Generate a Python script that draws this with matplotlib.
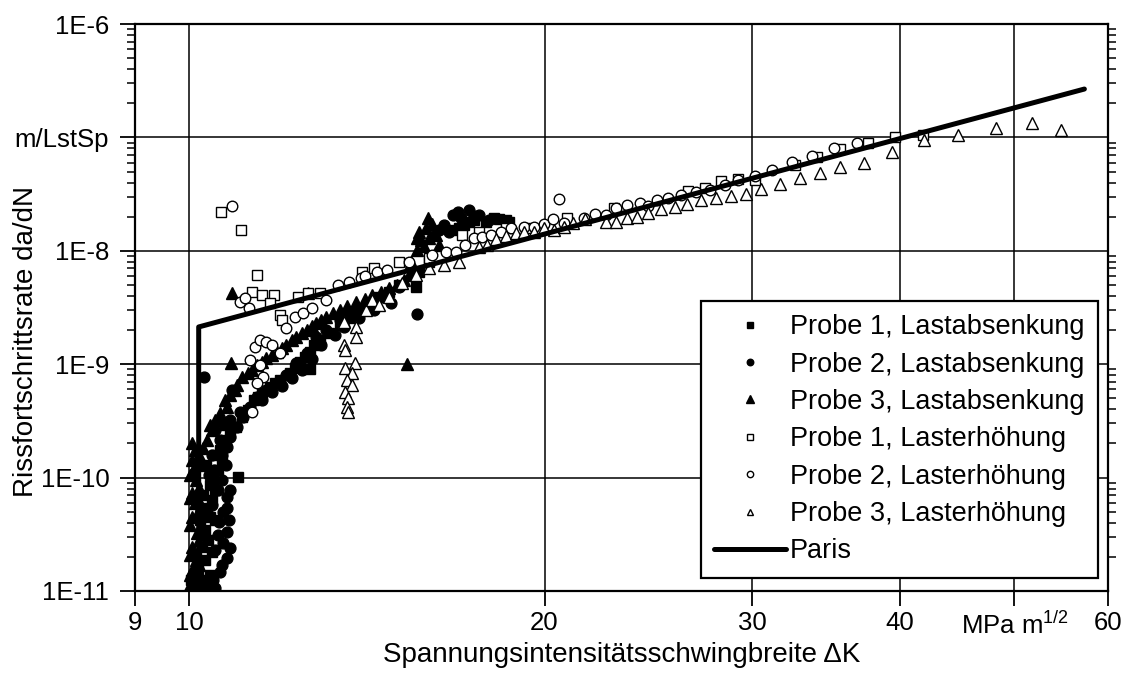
import matplotlib
matplotlib.use("Agg")
import matplotlib.pyplot as plt
from matplotlib.ticker import FixedLocator, NullLocator, LogLocator, NullFormatter

plt.rcParams["font.family"] = ["Liberation Sans", "DejaVu Sans"]
plt.rcParams["mathtext.fontset"] = "custom"
plt.rcParams["mathtext.rm"] = "Liberation Sans"

# Probe 1, Lastabsenkung
dk_p1_ab = [10.11, 10.21, 10.17, 10.31, 10.25, 10.37, 10.31, 10.41, 10.35, 10.45,
            10.51, 10.47, 10.58, 10.66, 10.62, 10.74, 10.83, 10.95, 11.08, 11.22,
            11.35, 11.52, 11.70, 11.93, 12.17, 12.41, 12.65, 12.90, 13.41, 13.94,
            14.49, 15.07, 15.97, 11.00, 12.65, 15.58, 16.70, 17.10, 17.43, 17.85,
            18.30, 18.55, 10.04, 10.27, 10.41, 10.13, 10.45, 10.21, 10.51, 10.27,
            10.41, 10.33, 10.51, 10.72, 11.43, 11.82, 12.29, 12.53, 12.77, 13.15,
            13.67, 14.21, 14.78, 15.67, 17.26, 18.12, 18.66, 16.93]
rate_p1_ab = [1.06e-11, 1.25e-11, 1.53e-11, 1.88e-11, 2.44e-11, 2.82e-11, 3.45e-11, 4.5e-11, 5.4e-11, 6.35e-11,
              7.78e-11, 9.5e-11, 1.17e-10, 1.43e-10, 1.75e-10, 2.15e-10, 2.47e-10, 2.79e-10, 3.42e-10, 3.94e-10,
              4.83e-10, 5.57e-10, 6.3e-10, 7.25e-10, 8.36e-10, 1.05e-9, 1.28e-9, 1.63e-9, 2.2e-9, 3.0e-9,
              3.91e-9, 5.0e-9, 7.97e-9, 1.01e-10, 9.1e-10, 4.8e-9, 1.53e-8, 1.69e-8, 1.87e-8, 1.80e-8,
              1.91e-8, 1.87e-8, 1.25e-11, 1.02e-11, 1.38e-11, 2.08e-11, 2.21e-11, 4.23e-11, 4.23e-11, 7.03e-11,
              8.6e-11, 1.29e-10, 1.58e-10, 2.91e-10, 5.14e-10, 6.82e-10, 9.25e-10, 1.16e-9, 1.48e-9, 1.88e-9,
              2.55e-9, 3.33e-9, 4.33e-9, 6.52e-9, 1.80e-8, 1.95e-8, 1.80e-8, 1.59e-8]

# Probe 2, Lastabsenkung
dk_p2_ab = [10.37, 10.47, 10.62, 10.76, 10.68, 10.76, 10.60, 10.68, 10.76, 10.76,
            10.58, 10.49, 10.66, 10.76, 10.83, 10.97, 10.88, 11.11, 11.26, 11.41,
            11.63, 11.86, 12.09, 12.33, 12.58, 12.82, 13.07, 13.41, 13.75, 14.13,
            14.60, 15.07, 15.50, 10.29, 15.60, 16.29, 16.45, 16.74, 17.00, 17.26,
            17.60, 17.95, 10.51, 10.66, 10.51, 10.83, 10.58, 10.81, 10.45, 10.83,
            10.66, 10.39, 10.74, 10.45, 10.62, 10.51, 10.83, 11.04, 11.52, 11.75,
            11.98, 12.22, 12.46, 12.70, 12.94, 13.28, 13.54, 13.94, 14.35, 14.84,
            16.90, 17.43, 16.61]
rate_p2_ab = [1.13e-11, 1.25e-11, 1.47e-11, 1.95e-11, 2.65e-11, 3.31e-11, 4.06e-11, 4.97e-11, 5.4e-11, 6.74e-11,
              7.78e-11, 1.17e-10, 1.58e-10, 1.86e-10, 2.28e-10, 2.79e-10, 5.92e-10, 3.42e-10, 4.2e-10, 5.14e-10,
              5.92e-10, 6.82e-10, 8.03e-10, 1.03e-9, 1.26e-9, 1.74e-9, 2.0e-9, 2.45e-9, 2.83e-9, 3.19e-9,
              3.91e-9, 4.8e-9, 6.12e-9, 7.71e-10, 2.78e-9, 1.53e-8, 1.69e-8, 2.07e-8, 1.95e-8, 2.29e-8,
              2.07e-8, 1.87e-8, 1.06e-11, 1.7e-11, 2.3e-11, 2.39e-11, 3.12e-11, 4.23e-11, 5.73e-11, 7.78e-11,
              9.5e-11, 1.05e-10, 1.29e-10, 1.58e-10, 2.15e-10, 2.63e-10, 3.22e-10, 3.79e-10, 4.83e-10, 5.69e-10,
              6.43e-10, 7.55e-10, 8.89e-10, 1.11e-9, 1.48e-9, 1.81e-9, 2.13e-9, 2.55e-9, 3.0e-9, 3.47e-9,
              2.2e-8, 2.03e-8, 1.47e-8]

# Probe 3, Lastabsenkung
dk_p3_ab = [10.06, 10.11, 10.06, 10.13, 10.06, 10.15, 10.06, 10.11, 10.06, 10.13,
            10.08, 10.06, 10.11, 10.06, 10.27, 10.21, 10.23, 10.45, 10.62, 10.76,
            10.66, 10.93, 11.08, 11.22, 11.41, 11.63, 11.86, 12.09, 12.33, 12.58,
            12.82, 13.07, 13.41, 13.84, 14.29, 14.78, 15.22, 15.51, 15.61, 15.73,
            15.86, 15.92, 16.06, 16.19, 16.29, 15.67, 15.97, 10.87, 12.60, 10.85,
            15.30, 10.02, 10.02, 10.19, 10.02, 10.19, 10.02, 10.19, 10.02, 10.19,
            10.02, 10.19, 10.19, 10.35, 10.41, 10.51, 10.72, 10.83, 10.97, 11.30,
            11.52, 11.75, 11.98, 12.22, 12.46, 12.70, 12.94, 13.25, 13.62, 14.08,
            14.55, 15.01, 15.36, 15.42, 15.80, 16.13, 15.61]
rate_p3_ab = [1.06e-11, 1.25e-11, 1.53e-11, 1.88e-11, 2.44e-11, 3.25e-11, 4.5e-11, 5.97e-11, 7.31e-11, 9.5e-11,
              1.17e-10, 1.43e-10, 1.75e-10, 2.02e-10, 1.82e-10, 3.45e-11, 5.74e-11, 2.63e-10, 3.71e-10, 4.2e-10,
              3.22e-10, 5.92e-10, 7.71e-10, 8.36e-10, 9.84e-10, 1.13e-9, 1.28e-9, 1.48e-9, 1.74e-9, 2.0e-9,
              2.31e-9, 2.61e-9, 3.0e-9, 3.53e-9, 4.07e-9, 4.7e-9, 5.53e-9, 6.78e-9, 1.02e-8, 1.25e-8,
              1.59e-8, 1.95e-8, 1.72e-8, 1.38e-8, 1.13e-8, 1.47e-8, 1.29e-8, 4.25e-9, 4.25e-9, 1.03e-9,
              1.0e-9, 1.13e-11, 1.38e-11, 1.7e-11, 2.08e-11, 2.82e-11, 3.82e-11, 5.18e-11, 6.61e-11, 8.1e-11,
              1.05e-10, 1.29e-10, 1.58e-10, 2.15e-10, 2.91e-10, 3.22e-10, 4.83e-10, 5.35e-10, 6.56e-10, 8.89e-10,
              1.05e-9, 1.2e-9, 1.39e-9, 1.63e-9, 1.88e-9, 2.17e-9, 2.45e-9, 2.83e-9, 3.26e-9, 3.76e-9,
              4.33e-9, 5.0e-9, 6.12e-9, 7.97e-9, 1.1e-8, 1.47e-8, 1.29e-8]

# Probe 1, Lasterhöhung
dk_p1_er = [10.64, 11.07, 11.41, 11.30, 11.53, 11.80, 11.70, 11.93, 11.98, 12.36,
            12.60, 12.90, 14.00, 14.35, 15.07, 15.97, 17.03, 17.60, 18.55, 19.30,
            20.88, 22.88, 26.47, 27.36, 28.23, 29.17, 30.15, 32.60, 34.00, 35.60,
            37.60, 39.60, 41.80]
rate_p1_er = [2.2e-8, 1.53e-8, 6.1e-9, 4.33e-9, 4.08e-9, 4.08e-9, 3.46e-9, 2.72e-9, 2.45e-9, 3.91e-9,
              4.25e-9, 4.25e-9, 6.5e-9, 7.05e-9, 7.97e-9, 8.6e-9, 1.38e-8, 1.46e-8, 1.59e-8, 1.59e-8,
              1.95e-8, 2.38e-8, 3.37e-8, 3.58e-8, 4.12e-8, 4.3e-8, 4.2e-8, 5.7e-8, 6.7e-8, 7.9e-8,
              8.9e-8, 1.0e-7, 1.05e-7]

# Probe 2, Lasterhöhung
dk_p2_er = [10.87, 20.56, 11.04, 11.15, 11.24, 11.26, 11.37, 11.48, 11.63, 11.75,
            11.48, 11.55, 11.42, 11.30, 11.93, 12.09, 12.29, 12.48, 12.72, 13.07,
            13.36, 13.67, 13.97, 14.08, 14.43, 14.72, 15.36, 16.06, 16.51, 16.83,
            17.13, 17.43, 17.70, 18.02, 18.37, 18.73, 19.21, 19.59, 19.97, 20.32,
            20.76, 21.58, 22.05, 22.53, 22.97, 23.51, 24.07, 24.49, 24.92, 25.46,
            26.10, 26.89, 27.63, 28.44, 29.17, 30.15, 31.15, 32.40, 33.70, 35.20,
            36.80]
rate_p2_er = [2.48e-8, 2.86e-8, 3.54e-9, 3.83e-9, 3.13e-9, 1.09e-9, 1.42e-9, 1.63e-9, 1.57e-9, 1.48e-9,
              9.8e-10, 7.7e-10, 6.8e-10, 3.79e-10, 1.25e-9, 2.09e-9, 2.61e-9, 2.83e-9, 3.13e-9, 3.68e-9,
              5.0e-9, 5.3e-9, 5.75e-9, 6.0e-9, 6.5e-9, 6.8e-9, 7.97e-9, 9.2e-9, 9.8e-9, 9.8e-9,
              1.12e-8, 1.30e-8, 1.32e-8, 1.38e-8, 1.46e-8, 1.59e-8, 1.62e-8, 1.62e-8, 1.72e-8, 1.91e-8,
              1.76e-8, 1.95e-8, 2.11e-8, 2.06e-8, 2.38e-8, 2.53e-8, 2.64e-8, 2.48e-8, 2.81e-8, 2.92e-8,
              3.1e-8, 3.3e-8, 3.44e-8, 3.8e-8, 4.2e-8, 4.57e-8, 5.16e-8, 6.07e-8, 6.85e-8, 8.07e-8,
              8.93e-8]

# Probe 3, Lasterhöhung
dk_p3_er = [13.53, 13.86, 13.84, 13.53, 13.56, 13.81, 13.56, 13.73, 13.61, 13.73,
            13.56, 13.64, 13.61, 13.64, 14.13, 14.29, 14.49, 14.78, 15.16, 15.58,
            15.97, 16.45, 16.93, 17.60, 17.88, 18.19, 18.55, 18.91, 19.21, 19.59,
            19.97, 20.36, 20.76, 21.16, 21.66, 22.53, 22.97, 23.47, 23.93, 24.49,
            25.12, 25.81, 26.42, 27.15, 27.95, 28.78, 29.63, 30.51, 31.67, 32.90,
            34.20, 35.60, 37.30, 39.40, 41.90, 44.80, 48.20, 51.70, 54.70]
rate_p3_er = [2.36e-9, 2.13e-9, 1.74e-9, 1.48e-9, 1.33e-9, 1.02e-9, 9.26e-10, 8.35e-10, 7.25e-10, 6.56e-10,
              5.69e-10, 5.03e-10, 4.19e-10, 3.79e-10, 3.0e-9, 3.7e-9, 3.3e-9, 3.9e-9, 5.2e-9, 6.1e-9,
              7.0e-9, 7.5e-9, 8.0e-9, 1.08e-8, 1.12e-8, 1.27e-8, 1.35e-8, 1.44e-8, 1.46e-8, 1.46e-8,
              1.59e-8, 1.53e-8, 1.62e-8, 1.76e-8, 1.91e-8, 1.79e-8, 1.79e-8, 1.95e-8, 1.99e-8, 2.15e-8,
              2.34e-8, 2.43e-8, 2.59e-8, 2.81e-8, 2.92e-8, 3.04e-8, 3.17e-8, 3.51e-8, 3.88e-8, 4.39e-8,
              4.85e-8, 5.48e-8, 5.94e-8, 7.43e-8, 9.48e-8, 1.05e-7, 1.21e-7, 1.34e-7, 1.16e-7]

# Paris-Gerade mit Schwellenwert
dk_paris = [10.19, 10.19, 57.3]
rate_paris = [1e-11, 2.13e-9, 2.67e-7]

xticks = [9, 10, 20, 30, 40, 50, 60]
xticklabels = ["9", "10", "20", "30", "40", r"MPa m$^{\mathregular{1/2}}$", "60"]
yticks = [1e-11, 1e-10, 1e-9, 1e-8, 1e-7, 1e-6]
yticklabels = ["1E-11", "1E-10", "1E-9", "1E-8", "m/LstSp", "1E-6"]

fs = 19.5
fs_tick = 18.5
fig = plt.figure(figsize=(11.29, 6.78), dpi=100)
ax = fig.add_axes([135 / 1129, 1 - 591 / 678, 973 / 1129, 567 / 678])
ax.set_xscale("log")
ax.set_yscale("log")
ax.set_xlim(9, 60)
ax.set_ylim(1e-11, 1e-6)

mew = 1.0
ax.plot(dk_p1_ab, rate_p1_ab, ls="none", marker="s", ms=7, mfc="black", mec="black", mew=mew,
        label="Probe 1, Lastabsenkung", zorder=3)
ax.plot(dk_p2_ab, rate_p2_ab, ls="none", marker="o", ms=7.8, mfc="black", mec="black", mew=mew,
        label="Probe 2, Lastabsenkung", zorder=3)
ax.plot(dk_p3_ab, rate_p3_ab, ls="none", marker="^", ms=8.5, mfc="black", mec="black", mew=mew,
        label="Probe 3, Lastabsenkung", zorder=3)
ax.plot(dk_p1_er, rate_p1_er, ls="none", marker="s", ms=6.8, mfc="white", mec="black", mew=mew,
        label="Probe 1, Lasterhöhung", zorder=4)
ax.plot(dk_p2_er, rate_p2_er, ls="none", marker="o", ms=7.6, mfc="white", mec="black", mew=mew,
        label="Probe 2, Lasterhöhung", zorder=4)
ax.plot(dk_p3_er, rate_p3_er, ls="none", marker="^", ms=8.2, mfc="white", mec="black", mew=mew,
        label="Probe 3, Lasterhöhung", zorder=4)
ax.plot(dk_paris, rate_paris, color="black", lw=3.6, solid_capstyle="round", label="Paris", zorder=5)

# Achsen und Gitter
ax.xaxis.set_major_locator(FixedLocator(xticks))
ax.xaxis.set_minor_locator(NullLocator())
ax.set_xticklabels(xticklabels)
ax.yaxis.set_major_locator(FixedLocator(yticks))
ax.yaxis.set_minor_locator(LogLocator(base=10, subs=range(2, 10)))
ax.yaxis.set_minor_formatter(NullFormatter())
ax.set_yticklabels(yticklabels)

ax.tick_params(axis="both", which="major", direction="out", length=10.5, width=1.3,
               labelsize=fs_tick, color="black")
ax.tick_params(axis="x", which="major", pad=4)
ax.tick_params(axis="y", which="major", pad=8)
ax.tick_params(axis="y", which="minor", direction="out", length=6, width=1.1,
               left=True, right=True)
for s in ax.spines.values():
    s.set_linewidth(1.6)
    s.set_color("black")

ax.grid(True, which="major", color="black", lw=1.1)
ax.set_axisbelow(True)

ax.set_xlabel("Spannungsintensitätsschwingbreite ΔK", fontsize=fs + 0.5, labelpad=2)
ax.set_ylabel("Rissfortschrittsrate da/dN", fontsize=fs + 0.5)
ax.yaxis.set_label_coords(-0.099, 0.44)

leg = ax.legend(loc="lower right", bbox_to_anchor=(0.9897, 0.0229), fontsize=fs,
                frameon=True, fancybox=False, edgecolor="black", framealpha=1,
                markerscale=0.6, handlelength=2.65, handletextpad=0.15,
                labelspacing=0.42, borderpad=0.5, borderaxespad=0)
leg.get_frame().set_linewidth(1.6)

fig.savefig("out.png", dpi=100)
